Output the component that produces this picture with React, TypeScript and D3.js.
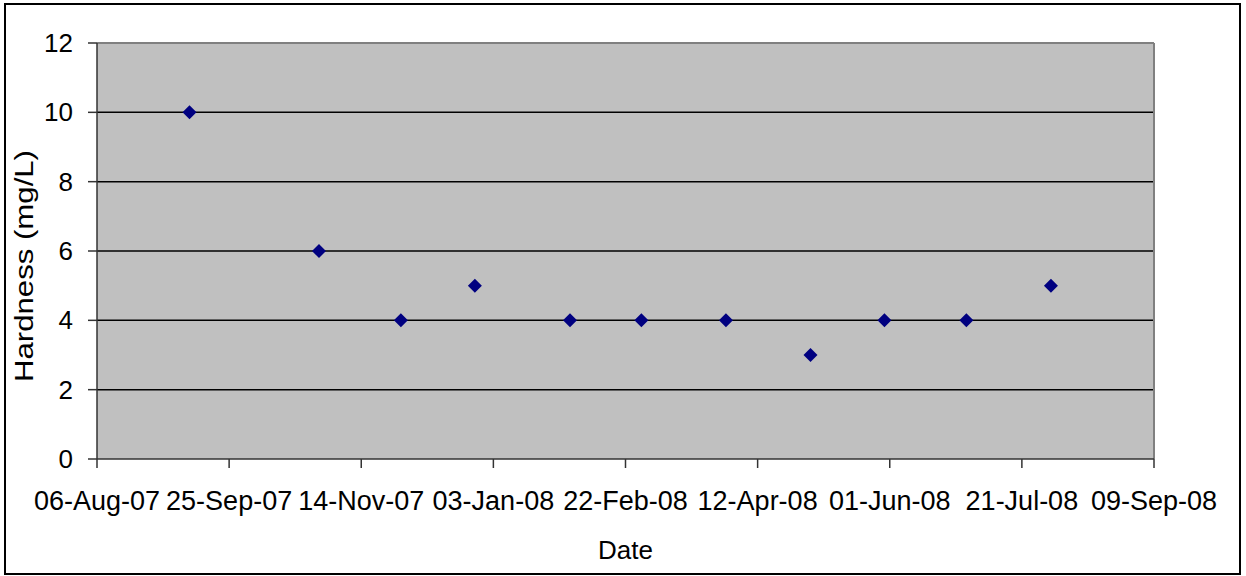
import React from "react";
import * as d3 from "d3";

const sampleDates = [
  "2007-09-10", "2007-10-29", "2007-11-29", "2007-12-27", "2008-02-01", "2008-02-28",
  "2008-03-31", "2008-05-02", "2008-05-30", "2008-06-30", "2008-08-01",
];
const hardness = [10, 6, 4, 5, 4, 4, 4, 3, 4, 4, 5];
const xTickDates = [
  "2007-08-06", "2007-09-25", "2007-11-14", "2008-01-03", "2008-02-22",
  "2008-04-12", "2008-06-01", "2008-07-21", "2008-09-09",
];
const yTicks = [0, 2, 4, 6, 8, 10, 12];

const W = 1246, H = 576;
const plot = { left: 97, right: 1154, top: 43, bottom: 459 };
const FONT = "Arial, 'Liberation Sans', sans-serif";

export default function App() {
  const parse = d3.utcParse("%Y-%m-%d");
  const fmt = d3.utcFormat("%d-%b-%y");
  const ticks = xTickDates.map((s) => parse(s) as Date);
  const x = d3.scaleUtc().domain([ticks[0], ticks[ticks.length - 1]]).range([plot.left, plot.right]);
  const y = d3.scaleLinear().domain([0, 12]).range([plot.bottom, plot.top]);
  const diamond = d3.symbol().type(d3.symbolSquare).size(98)();

  return (
    <svg width={W} height={H} style={{ position: "absolute", left: 0, top: 0, background: "#fff" }}>
      <rect x={5} y={4} width={1235} height={570} fill="#fff" stroke="#000" strokeWidth={2} />
      <rect x={plot.left} y={plot.top} width={plot.right - plot.left} height={plot.bottom - plot.top} fill="#C0C0C0" />
      {yTicks.filter((v) => v > 0 && v < 12).map((v) => (
        <line key={"g" + v} x1={plot.left} x2={plot.right} y1={y(v)} y2={y(v)} stroke="#000" strokeWidth={1.5} />
      ))}
      <line x1={plot.left} x2={plot.right} y1={plot.top} y2={plot.top} stroke="#808080" strokeWidth={2} />
      <line x1={plot.right} x2={plot.right} y1={plot.top} y2={plot.bottom} stroke="#808080" strokeWidth={2} />
      <line x1={plot.left} x2={plot.left} y1={plot.top} y2={plot.bottom} stroke="#333" strokeWidth={1.5} />
      <line x1={plot.left} x2={plot.right} y1={plot.bottom} y2={plot.bottom} stroke="#333" strokeWidth={1.5} />
      {yTicks.map((v) => (
        <g key={"y" + v}>
          <line x1={plot.left - 9} x2={plot.left} y1={y(v)} y2={y(v)} stroke="#333" strokeWidth={1.5} />
          <text x={73} y={y(v) + 9} textAnchor="end" fontFamily={FONT} fontSize={26} fill="#000">{v}</text>
        </g>
      ))}
      {ticks.map((d, i) => (
        <g key={"x" + i}>
          <line x1={x(d)} x2={x(d)} y1={plot.bottom} y2={plot.bottom + 9} stroke="#333" strokeWidth={1.5} />
          <text x={x(d)} y={510} textAnchor="middle" fontFamily={FONT} fontSize={27} fill="#000">{fmt(d)}</text>
        </g>
      ))}
      {sampleDates.map((s, i) => (
        <path key={"p" + i} d={diamond as string}
          transform={`translate(${x(parse(s) as Date)},${y(hardness[i])}) rotate(45)`} fill="#000080" />
      ))}
      <text x={(plot.left + plot.right) / 2} y={559} textAnchor="middle" fontFamily={FONT} fontSize={26} fill="#000">Date</text>
      <text transform={`translate(33,266) rotate(-90)`} textAnchor="middle" fontFamily={FONT} fontSize={25}
        textLength={232} lengthAdjust="spacingAndGlyphs" fill="#000">Hardness (mg/L)</text>
    </svg>
  );
}
